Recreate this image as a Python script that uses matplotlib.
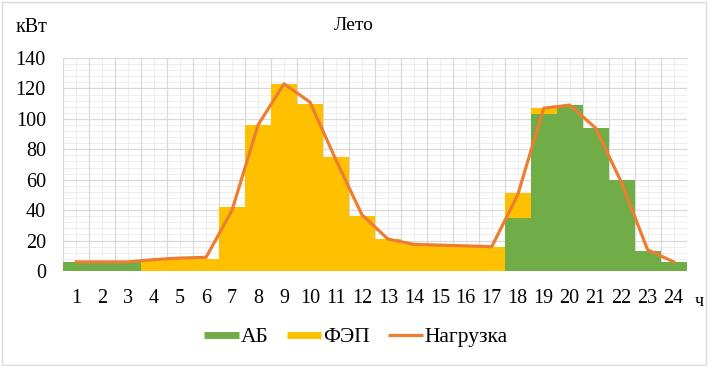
import numpy as np
import matplotlib
matplotlib.use("Agg")
import matplotlib.pyplot as plt
from matplotlib.lines import Line2D
from matplotlib.patches import Rectangle
from matplotlib.ticker import MultipleLocator

hours = list(range(1, 25))
ab = [6, 6, 6, 0, 0, 0, 0, 0, 0, 0, 0, 0,
      0, 0, 0, 0, 0, 35, 103, 109, 94, 60, 13, 6]
fep = [0, 0, 0, 8, 8, 8, 42, 96, 123, 110, 75, 36,
       21, 18, 17.5, 17, 16, 16, 4, 0, 0, 0, 0, 0]
load = [6, 6, 6, 7.5, 8.5, 9, 40, 96, 123, 111, 73, 37,
        21, 17.5, 17, 16.5, 16, 50, 107, 109, 94, 58, 14, 6]

GREEN = "#70AD47"
YELLOW = "#FFC000"
ORANGE = "#ED7D31"

plt.rcParams["font.family"] = ["Liberation Serif", "DejaVu Serif"]

fig = plt.figure(figsize=(7.08, 3.66), dpi=100)
ax = fig.add_axes([63.3 / 708, 1 - 271 / 366, (686.5 - 63.3) / 708, (271 - 58) / 366])

x = np.array(hours)
ax.bar(x, ab, width=1.0, color=GREEN, zorder=2)
ax.bar(x, fep, width=1.0, bottom=ab, color=YELLOW, zorder=2)
ax.plot(x, load, color=ORANGE, linewidth=2.3, zorder=3, solid_joinstyle="round")

ax.set_xlim(0.5, 24.5)
ax.set_ylim(0, 140)
ax.set_xticks(hours)
ax.set_xticklabels([str(h) for h in hours])
ax.yaxis.set_major_locator(MultipleLocator(20))
ax.yaxis.set_minor_locator(MultipleLocator(4))

# сетка: основные линии по границам часов, вспомогательные по центрам
for b in np.arange(0.5, 25, 1.0):
    ax.axvline(b, color="#d9d9d9", linewidth=0.9, zorder=1)
for c in hours:
    ax.axvline(c, color="#eeeeee", linewidth=0.7, zorder=0.5)
ax.grid(axis="y", which="major", color="#d9d9d9", linewidth=0.9, zorder=1)
ax.grid(axis="y", which="minor", color="#eeeeee", linewidth=0.7, zorder=0.5)
ax.set_axisbelow(True)

for s in ax.spines.values():
    s.set_visible(False)
ax.tick_params(axis="both", which="both", length=0, labelsize=14.5)
ax.tick_params(axis="x", pad=13)
ax.tick_params(axis="y", pad=12.5)

fig.text(354 / 708, 1 - 25 / 366, "Лето", ha="center", va="center", fontsize=14)
fig.text(32 / 708, 1 - 28 / 366, "кВт", ha="center", va="center", fontsize=14.5)
fig.text(699 / 708, 1 - 301 / 366, "ч", ha="center", va="center", fontsize=13)

handles = [
    Line2D([], [], color=GREEN, linewidth=5, solid_capstyle="butt"),
    Line2D([], [], color=YELLOW, linewidth=5, solid_capstyle="butt"),
    Line2D([], [], color=ORANGE, linewidth=2.3, solid_capstyle="butt"),
]
fig.legend(handles, ["АБ", "ФЭП", "Нагрузка"], loc="center",
           bbox_to_anchor=(356 / 708, 1 - 337 / 366), ncol=3, frameon=False,
           fontsize=15.5, handlelength=1.6, handletextpad=0.1, columnspacing=0.85)

fig.add_artist(Rectangle((2 / 708, 1 / 366), 704 / 708, 363 / 366, transform=fig.transFigure,
                         fill=False, edgecolor="#d9d9d9", linewidth=1))

fig.savefig("out.png", dpi=100)
